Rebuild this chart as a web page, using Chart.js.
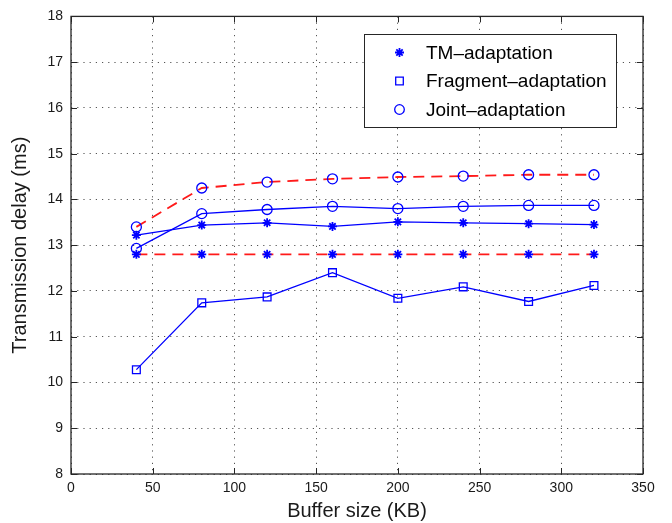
<!DOCTYPE html>
<html>
<head>
<meta charset="utf-8">
<script src="https://cdn.jsdelivr.net/npm/chart.js@4/dist/chart.umd.min.js"></script>
<style>
html,body{margin:0;padding:0;background:#fff;}
#wrap{width:672px;height:523px;position:relative;}
canvas{display:block;}
</style>
</head>
<body>
<div id="wrap"><canvas id="c" width="672" height="523" style="width:672px;height:523px"></canvas></div>
<script>
// ---- data ----
const bufferSizes = [40, 80, 120, 160, 200, 240, 280, 320];
const tmAdaptSolid = [13.22, 13.44, 13.49, 13.41, 13.51, 13.49, 13.47, 13.45];
const tmAdaptDashed = [12.8, 12.8, 12.8, 12.8, 12.8, 12.8, 12.8, 12.8];
const fragmentAdapt = [10.28, 11.74, 11.87, 12.40, 11.84, 12.09, 11.77, 12.12];
const jointAdaptSolid = [12.93, 13.69, 13.78, 13.85, 13.80, 13.85, 13.87, 13.87];
const jointAdaptDashed = [13.40, 14.25, 14.38, 14.45, 14.49, 14.51, 14.54, 14.54];
const legendLabels = ['TM\u2013adaptation', 'Fragment\u2013adaptation', 'Joint\u2013adaptation'];
const legendStyles = ['star', 'rect', 'circle'];
const xTitle = 'Buffer size (KB)';
const yTitle = 'Transmission delay (ms)';

const FONT = '"Liberation Sans", Arial, Helvetica, sans-serif';
const BLUE = '#0000ff';
const RED = '#ff1a1a';

function pts(vals) { return bufferSizes.map((x, i) => ({x: x, y: vals[i]})); }

function ds(vals, style, dashed) {
  return {
    data: pts(vals),
    showLine: true,
    tension: 0,
    borderColor: dashed ? RED : BLUE,
    borderWidth: dashed ? 1.8 : 1.3,
    borderDash: dashed ? [11, 7] : [],
    pointStyle: style,
    pointRadius: style === 'star' ? 4.5 : (style === 'rect' ? 5.5 : 5),
    pointBorderColor: BLUE,
    pointBackgroundColor: 'rgba(0,0,0,0)',
    pointBorderWidth: style === 'star' ? 1.8 : 1.3,
    pointHoverRadius: 0,
    fill: false
  };
}

function drawMarker(ctx, style, x, y) {
  ctx.save();
  ctx.strokeStyle = BLUE;
  ctx.beginPath();
  if (style === 'star') {
    const r = 4.5; const d = r * Math.SQRT1_2;
    ctx.lineWidth = 1.8;
    ctx.moveTo(x - r, y); ctx.lineTo(x + r, y);
    ctx.moveTo(x, y - r); ctx.lineTo(x, y + r);
    ctx.moveTo(x - d, y - d); ctx.lineTo(x + d, y + d);
    ctx.moveTo(x - d, y + d); ctx.lineTo(x + d, y - d);
  } else if (style === 'rect') {
    ctx.lineWidth = 1.3;
    ctx.rect(x - 3.8, y - 3.8, 7.6, 7.6);
  } else {
    ctx.lineWidth = 1.3;
    ctx.arc(x, y, 4.8, 0, Math.PI * 2);
  }
  ctx.stroke();
  ctx.restore();
}

const framePlugin = {
  id: 'frame',
  afterDatasetsDraw(chart) {
    const {ctx, chartArea: a, scales} = chart;
    ctx.save();
    ctx.strokeStyle = '#262626';
    ctx.lineWidth = 1.3;
    ctx.strokeRect(a.left, a.top, a.right - a.left, a.bottom - a.top);
    ctx.lineWidth = 1;
    ctx.beginPath();
    const tl = 6;
    scales.x.ticks.forEach(t => {
      const px = Math.round(scales.x.getPixelForValue(t.value)) + 0.5;
      ctx.moveTo(px, a.bottom); ctx.lineTo(px, a.bottom - tl);
      ctx.moveTo(px, a.top); ctx.lineTo(px, a.top + tl);
    });
    scales.y.ticks.forEach(t => {
      const py = Math.round(scales.y.getPixelForValue(t.value)) + 0.5;
      ctx.moveTo(a.left, py); ctx.lineTo(a.left + tl, py);
      ctx.moveTo(a.right, py); ctx.lineTo(a.right - tl, py);
    });
    ctx.stroke();
    ctx.restore();
  },
  afterDraw(chart) {
    const {ctx} = chart;
    const bx = 364, by = 34, bw = 252, bh = 93;
    ctx.save();
    ctx.fillStyle = '#fff';
    ctx.fillRect(bx, by, bw, bh);
    ctx.strokeStyle = '#262626';
    ctx.lineWidth = 1;
    ctx.strokeRect(bx + 0.5, by + 0.5, bw, bh);
    const rows = [52.5, 81, 109.5];
    ctx.font = '19px ' + FONT;
    ctx.fillStyle = '#000';
    ctx.textBaseline = 'middle';
    ctx.textAlign = 'left';
    legendLabels.forEach((lab, i) => {
      drawMarker(ctx, legendStyles[i], 399.5, rows[i]);
      ctx.fillText(lab, 426, rows[i] + 1);
    });
    ctx.restore();
  }
};

new Chart(document.getElementById('c'), {
  type: 'scatter',
  data: {
    datasets: [
      ds(tmAdaptSolid, 'star', false),
      ds(tmAdaptDashed, 'star', true),
      ds(fragmentAdapt, 'rect', false),
      ds(jointAdaptSolid, 'circle', false),
      ds(jointAdaptDashed, 'circle', true)
    ]
  },
  options: {
    responsive: false,
    maintainAspectRatio: false,
    animation: false,
    events: [],
    layout: {padding: {top: 14, right: 29, left: 0, bottom: 0}},
    plugins: {legend: {display: false}, tooltip: {enabled: false}},
    scales: {
      x: {
        type: 'linear', min: 0, max: 350,
        ticks: {stepSize: 50, color: '#1a1a1a', font: {family: FONT, size: 14}, padding: 6, maxRotation: 0},
        grid: {color: '#555', lineWidth: 1, drawTicks: false, tickLength: 0},
        border: {display: false, dash: [1.2, 5]},
        title: {display: true, text: xTitle, color: '#1a1a1a', font: {family: FONT, size: 20}, padding: {top: 0, bottom: 0}},
        afterFit(s) { s.height = 49; }
      },
      y: {
        type: 'linear', min: 8, max: 18,
        ticks: {stepSize: 1, color: '#1a1a1a', font: {family: FONT, size: 14}, padding: 8},
        grid: {color: '#555', lineWidth: 1, drawTicks: false, tickLength: 0},
        border: {display: false, dash: [1.2, 5]},
        title: {display: true, text: yTitle, color: '#1a1a1a', font: {family: FONT, size: 20}, padding: {top: 8, bottom: 0}},
        afterFit(s) { s.width = 71; }
      }
    }
  },
  plugins: [framePlugin]
});
</script>
</body>
</html>
